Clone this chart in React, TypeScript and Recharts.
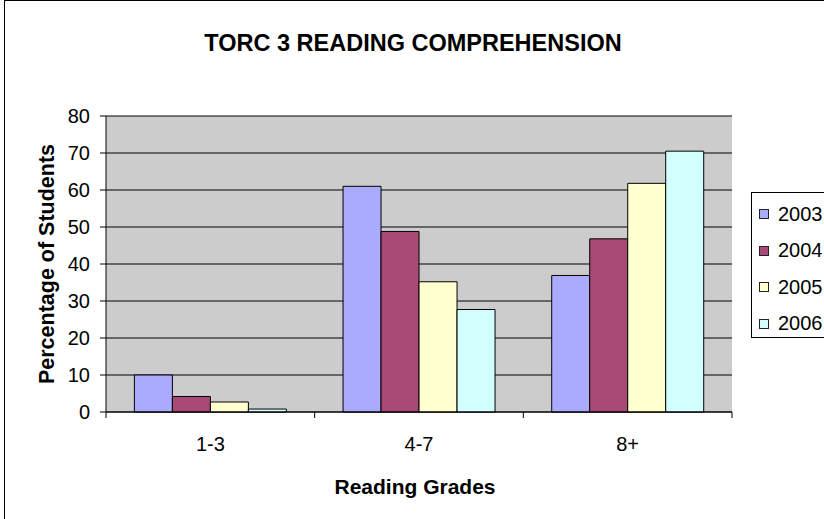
import React from 'react';
import { BarChart, Bar, XAxis, YAxis, CartesianGrid, Legend } from 'recharts';

const grades = ['1-3', '4-7', '8+'];
const years = ['2003', '2004', '2005', '2006'];
const v2003 = [10, 61, 36.9];
const v2004 = [4.2, 48.8, 46.8];
const v2005 = [2.7, 35.2, 61.8];
const v2006 = [0.8, 27.7, 70.5];
const yTicks = [0, 10, 20, 30, 40, 50, 60, 70, 80];
const colors = ['#AAAAFF', '#A94A76', '#FFFFD0', '#D2FFFF'];

const seriesValues = [v2003, v2004, v2005, v2006];
const data = grades.map((g, i) => {
  const row: Record<string, any> = { grade: g };
  years.forEach((y, k) => {
    row[y] = seriesValues[k][i];
  });
  return row;
});

const FONT = '"Liberation Sans", Arial, sans-serif';

const CatTick = (props: any) => {
  const { x, y, payload, index, visibleTicksCount } = props;
  const off = payload && typeof payload.offset === 'number' ? payload.offset : 0;
  return (
    <g>
      {off > 0 && <line x1={x - off} x2={x - off} y1={y} y2={y + 6} stroke="#000" />}
      {off > 0 && index === visibleTicksCount - 1 && (
        <line x1={x + off} x2={x + off} y1={y} y2={y + 6} stroke="#000" />
      )}
      <text x={x} y={y + 39} textAnchor="middle" fontSize={20} fontFamily={FONT} fill="#000">
        {payload.value}
      </text>
    </g>
  );
};

const LegendBox = (props: any) => {
  const payload = props.payload || [];
  return (
    <div
      style={{
        width: 90,
        height: 146,
        border: '1px solid #000',
        background: '#fff',
        boxSizing: 'border-box',
        fontFamily: FONT,
        fontSize: 20,
        paddingTop: 3,
      }}
    >
      {payload.map((p: any) => (
        <div key={p.value} style={{ display: 'flex', alignItems: 'center', height: 36.5 }}>
          <div
            style={{
              width: 10,
              height: 10,
              marginLeft: 7,
              marginRight: 9,
              background: p.color,
              border: '1px solid #222',
              boxSizing: 'border-box',
            }}
          />
          <span style={{ color: '#000' }}>{p.value}</span>
        </div>
      ))}
    </div>
  );
};

export default function App() {
  return (
    <div style={{ position: 'relative', width: 824, height: 519, overflow: 'hidden', background: '#fff' }}>
      <style>{`body{margin:0;overflow:hidden;}`}</style>
      <div
        style={{
          position: 'absolute',
          left: 4,
          top: 0,
          width: 840,
          height: 540,
          border: '1px solid #000',
        }}
      />
      <div
        style={{
          position: 'absolute',
          left: 0,
          width: 824,
          top: 29,
          textAlign: 'center',
          fontFamily: FONT,
          fontWeight: 'bold',
          fontSize: 23.5,
          lineHeight: '28px',
          paddingLeft: 2,
          boxSizing: 'border-box',
        }}
      >
        TORC 3 READING COMPREHENSION
      </div>
      <div style={{ position: 'absolute', left: 0, top: 0 }}>
        <BarChart
          width={824}
          height={519}
          data={data}
          margin={{ top: 116, right: 92, bottom: 27, left: 0 }}
          barCategoryGap="13.6%"
          barGap={0}
        >
          <CartesianGrid horizontal vertical={false} stroke="#000" fill="#CCCCCC" fillOpacity={1} />
          <XAxis
            dataKey="grade"
            height={80}
            axisLine={{ stroke: '#000' }}
            tickLine={false}
            tickSize={0}
            tickMargin={0}
            tick={<CatTick />}
            interval={0}
            label={{
              content: (p: any) => {
                const vb = p.viewBox || {};
                return (
                  <text
                    x={vb.x + vb.width / 2 - 4}
                    y={vb.y + 82}
                    textAnchor="middle"
                    fontFamily={FONT}
                    fontWeight="bold"
                    fontSize={21}
                    fill="#000"
                  >
                    Reading Grades
                  </text>
                );
              },
            }}
          />
          <XAxis
            xAxisId="top"
            dataKey="grade"
            orientation="top"
            height={0}
            tick={false}
            tickLine={false}
            axisLine={{ stroke: '#808080', strokeWidth: 2 }}
          />
          <YAxis
            width={106}
            domain={[0, 80]}
            ticks={yTicks}
            interval={0}
            axisLine={{ stroke: '#000' }}
            tickLine={{ stroke: '#000' }}
            tickSize={6}
            tickMargin={10}
            tick={{ fontSize: 20, fontFamily: FONT, fill: '#000' }}
            label={{
              content: (p: any) => {
                const vb = p.viewBox || {};
                const cx = vb.x + 47;
                const cy = vb.y + vb.height / 2;
                return (
                  <text
                    x={cx}
                    y={cy}
                    transform={`rotate(-90 ${cx} ${cy})`}
                    textAnchor="middle"
                    dominantBaseline="central"
                    fontFamily={FONT}
                    fontWeight="bold"
                    fontSize={21.5}
                    fill="#000"
                  >
                    Percentage of Students
                  </text>
                );
              },
            }}
          />
          <YAxis
            yAxisId="right"
            orientation="right"
            width={0}
            domain={[0, 80]}
            tick={false}
            tickLine={false}
            axisLine={{ stroke: '#808080', strokeWidth: 2 }}
          />
          <Legend
            layout="horizontal"
            verticalAlign="middle"
            align="center"
            content={<LegendBox />}
            wrapperStyle={{ position: 'absolute', left: 751, top: 192, width: 90, height: 146 }}
          />
          {years.map((y, k) => (
            <Bar
              key={y}
              dataKey={y}
              name={y}
              fill={colors[k]}
              stroke="#000"
              strokeWidth={1}
              isAnimationActive={false}
            />
          ))}
        </BarChart>
      </div>
    </div>
  );
}
